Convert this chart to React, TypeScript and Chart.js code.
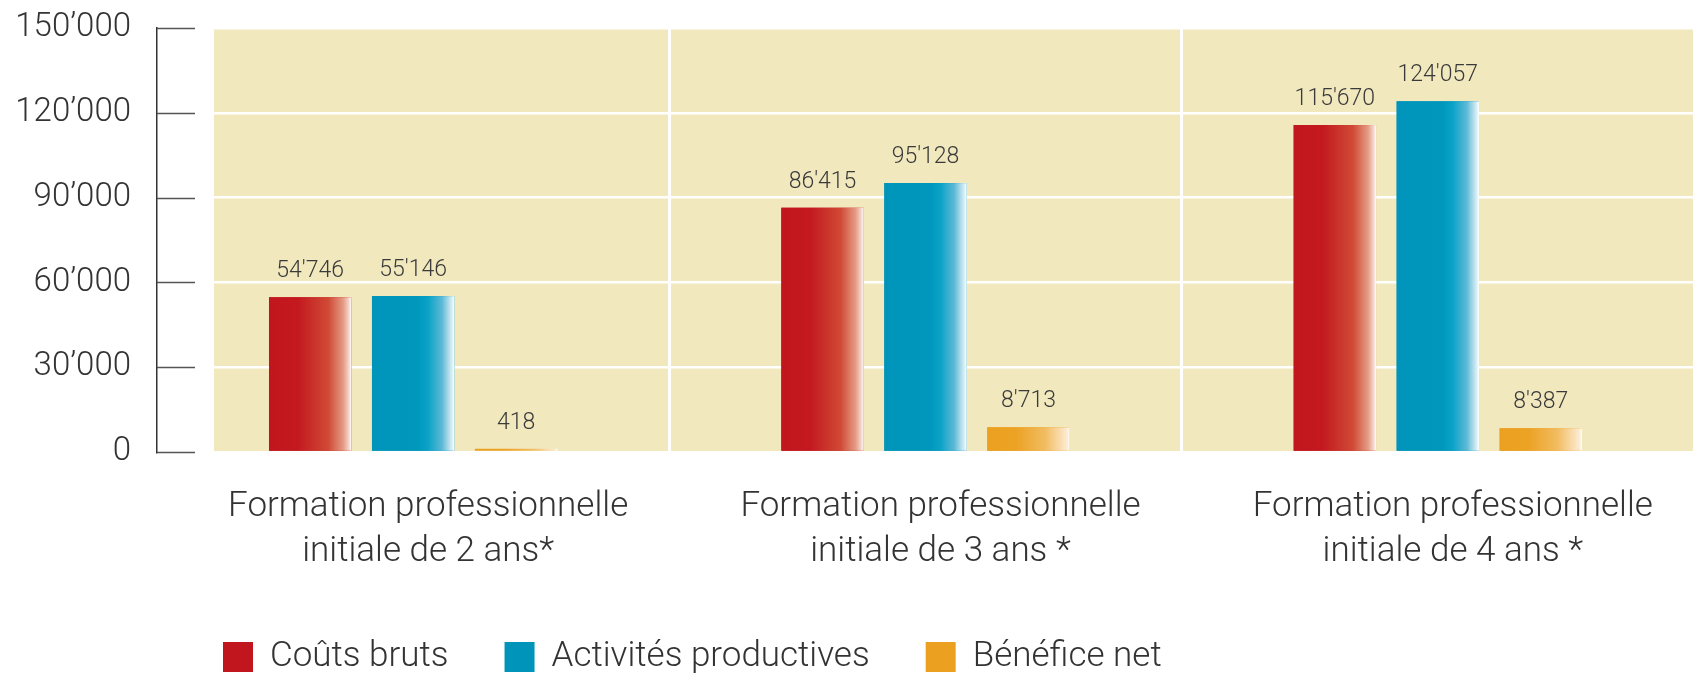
import React, { useEffect, useRef } from "react";
import { Chart, registerables } from "chart.js";
Chart.register(...registerables);

const categories = [
  ["Formation professionnelle", "initiale de 2 ans*"],
  ["Formation professionnelle", "initiale de 3 ans *"],
  ["Formation professionnelle", "initiale de 4 ans *"],
];
const seriesLabels = ["Coûts bruts", "Activités productives", "Bénéfice net"];
const coutsBruts = [54746, 86415, 115670];
const activitesProductives = [55146, 95128, 124057];
const beneficeNet = [418, 8713, 8387];
const yTicks = [0, 30000, 60000, 90000, 120000, 150000];

const FONT = "Roboto, 'Noto Sans', sans-serif";
const TEXT = "#333333";
const BG = "#F1E8BE";
const solid = ["#C1161D", "#0094BA", "#EBA020"];
const stops: [number, string][][] = [
  [[0, "#C1161D"], [0.35, "#C3191F"], [0.72, "#D04A35"], [0.9, "#E49A84"], [0.97, "#F6D6CC"], [1, "#FFFFFF"]],
  [[0, "#0094BA"], [0.55, "#0097BD"], [0.68, "#0AA2C6"], [0.85, "#5DB9D7"], [0.97, "#D8EEF5"], [1, "#FFFFFF"]],
  [[0, "#EBA020"], [0.35, "#ECA224"], [0.7, "#F1BC60"], [0.97, "#FCEBD2"], [1, "#FFFFFF"]],
];

const fmt = (v: number, sep: string) => String(v).replace(/\B(?=(\d{3})+(?!\d))/g, sep);

const customPlugin = {
  id: "custom",
  beforeDraw(chart: any) {
    const { ctx, chartArea } = chart;
    const left = chartArea.left + 57;
    ctx.save();
    ctx.fillStyle = BG;
    ctx.fillRect(left, chartArea.top, chartArea.right - left, chartArea.bottom - chartArea.top);
    ctx.restore();
  },
  afterDatasetsDraw(chart: any) {
    const { ctx, chartArea } = chart;
    ctx.save();
    chart.data.datasets.forEach((ds: any, di: number) => {
      const meta = chart.getDatasetMeta(di);
      meta.data.forEach((el: any, i: number) => {
        const w = el.width;
        const x0 = el.x - w / 2;
        const g = ctx.createLinearGradient(x0, 0, x0 + w, 0);
        stops[di].forEach(([o, c]) => g.addColorStop(o, c));
        ctx.fillStyle = g;
        const top = Math.min(el.y, el.base);
        const h = Math.max(Math.abs(el.base - el.y), 2);
        ctx.fillRect(x0, el.base - h, w, h);
        ctx.fillStyle = "#3a3a3a";
        ctx.font = `300 23px ${FONT}`;
        ctx.textAlign = "center";
        ctx.textBaseline = "alphabetic";
        ctx.fillText(fmt(ds.data[i], "'"), el.x, Math.min(top, el.base - 2) - 20);
      });
    });
    // tick marks
    const ys = chart.scales.y;
    ctx.strokeStyle = "#555";
    ctx.lineWidth = 1.5;
    yTicks.forEach((v) => {
      const y = Math.round(ys.getPixelForValue(v)) + 0.5;
      ctx.beginPath();
      ctx.moveTo(chartArea.left, y);
      ctx.lineTo(chartArea.left + 38, y);
      ctx.stroke();
    });
    ctx.restore();
  },
  afterDraw(chart: any) {
    const { ctx } = chart;
    ctx.save();
    ctx.font = `300 35px ${FONT}`;
    ctx.textBaseline = "middle";
    ctx.textAlign = "left";
    let x = 223;
    const yc = 657;
    seriesLabels.forEach((lab, i) => {
      ctx.fillStyle = solid[i];
      ctx.fillRect(x, yc - 15, 30, 30);
      x += 30 + 17;
      ctx.fillStyle = TEXT;
      ctx.fillText(lab, x, yc);
      x += ctx.measureText(lab).width + 56;
    });
    ctx.restore();
  },
};

export default function App() {
  const ref = useRef<HTMLCanvasElement>(null);
  useEffect(() => {
    const canvas = ref.current!;
    const chart = new Chart(canvas, {
      type: "bar",
      data: {
        labels: categories as any,
        datasets: [
          { label: seriesLabels[0], data: coutsBruts, backgroundColor: solid[0] },
          { label: seriesLabels[1], data: activitesProductives, backgroundColor: solid[1] },
          { label: seriesLabels[2], data: beneficeNet, backgroundColor: solid[2] },
        ],
      },
      options: {
        responsive: false,
        animation: false,
        layout: { padding: { top: 28, left: 0, right: 0, bottom: 0 } },
        datasets: { bar: { categoryPercentage: 0.603, barPercentage: 0.8 } },
        plugins: { legend: { display: false }, tooltip: { enabled: false } },
        scales: {
          x: {
            offset: true,
            grid: {
              color: (c: any) => (c.index === 0 ? "rgba(0,0,0,0)" : "#ffffff"),
              lineWidth: 3,
              drawTicks: false,
              offset: true,
            },
            border: { display: false },
            ticks: {
              font: { family: FONT, size: 35, weight: 300 as any, lineHeight: 1.3 },
              color: TEXT,
              padding: 32,
              labelOffset: 15,
              maxRotation: 0,
              autoSkip: false,
            },
            afterFit: (s: any) => {
              s.height = 223;
              s.paddingLeft = 0;
              s.paddingRight = 0;
            },
          },
          y: {
            min: 0,
            max: 150000,
            ticks: {
              stepSize: 30000,
              callback: (v: any) => fmt(Number(v), "’"),
              font: { family: FONT, size: 33, weight: 300 as any },
              color: TEXT,
              padding: 26,
            },
            grid: { color: "#ffffff", lineWidth: 2.5, drawTicks: false },
            border: { display: true, color: "#333333", width: 1.5 },
            afterFit: (s: any) => {
              s.width = 157;
              s.paddingTop = 0;
              s.paddingBottom = 0;
            },
          },
        },
      },
      plugins: [customPlugin],
    });
    return () => chart.destroy();
  }, []);
  return (
    <div style={{ position: "absolute", left: 0, top: 0, width: 1694, height: 675, background: "#fff" }}>
      <canvas ref={ref} width={1694} height={675} style={{ display: "block", width: 1694, height: 675 }} />
    </div>
  );
}
